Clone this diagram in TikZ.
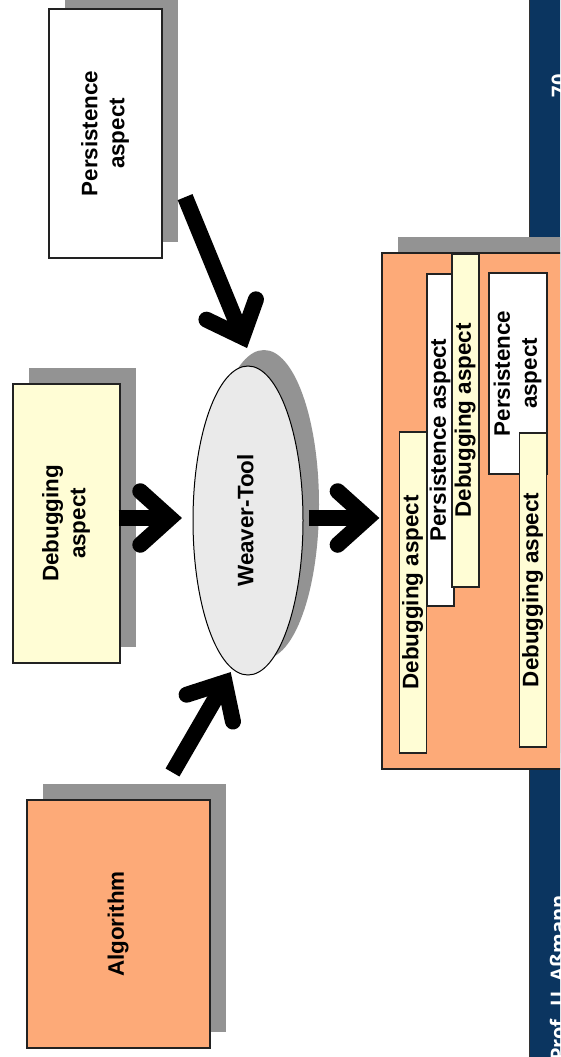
\documentclass[tikz,border=0pt]{standalone}
\usepackage{fontspec}
\setmainfont{Liberation Sans}
\newfontfamily\footfont{Open Sans}
\usetikzlibrary{calc,shadows,shapes.geometric}

\definecolor{navy}{HTML}{0B3560}
\definecolor{salmon}{HTML}{FDAA78}
\definecolor{paleyellow}{HTML}{FFFDD5}
\definecolor{shade}{HTML}{939393}
\definecolor{toolgray}{HTML}{EAEAEA}
\definecolor{edge}{HTML}{222222}

\tikzset{
  boxtext/.style={font=\bfseries\fontsize{22.4}{27}\selectfont, align=center},
  card/.style={rectangle, draw=edge, line width=1.2pt, inner sep=0pt, boxtext},
  shadowed/.style={drop shadow={shadow xshift=16pt, shadow yshift=16pt, fill=shade, opacity=1}},
  strip/.style={card, fill=paleyellow},
  note/.style={card, fill=white},
  shaft/.style={line width=16pt, line cap=butt},
  barb/.style={line width=16pt, line cap=round, line join=miter},
  footer/.style={text=white, font=\footfont\bfseries\fontsize{20}{24}\selectfont, inner sep=0pt, rotate=90},
}

% thick arrow: straight shaft plus a round-capped chevron meeting at the tip
\newcommand\fatarrow[2]{%
  \draw[shaft] (#1) -- (#2);
  \draw[barb] ($(#2)!40pt!42:(#1)$) -- (#2) -- ($(#2)!40pt!-42:(#1)$);
}
\newcommand\vtext[1]{\rotatebox{90}{\begin{tabular}{@{}c@{}}#1\end{tabular}}}

\begin{document}
\begin{tikzpicture}[x=1pt,y=-1pt]
  \useasboundingbox (0,0) rectangle (560,1057);
  \clip (0,0) rectangle (560,1057);

  % side bar with page number and author
  \fill[navy] (529,-2) rectangle (562,1059);
  \draw[black!80, line width=0.8pt] (529,-2) -- (529,1059);
  \node[footer, anchor=base] (pagenum) at (566,86) {70};
  \node[footer, anchor=base east] (author) at (565,895) {Prof. U. Aßmann};

  % inputs
  \node[card, shadowed, fill=white, minimum width=113pt, minimum height=249pt]
    (pers) at (105.5,133.5) {\vtext{Persistence\\aspect}};
  \node[card, shadowed, fill=paleyellow, minimum width=107pt, minimum height=279pt]
    (dbg) at (66.5,523.5) {\vtext{Debugging\\aspect}};
  \node[card, shadowed, fill=salmon, minimum width=183pt, minimum height=248pt]
    (alg) at (118.5,924) {\vtext{Algorithm}};

  % the weaver
  \node[ellipse, draw=black, line width=1pt, fill=toolgray, shadowed, inner sep=0pt,
        minimum width=110pt, minimum height=309pt, boxtext]
    (tool) at (248,520.5) {\vtext{Weaver-Tool}};

  % woven result
  \node[card, shadowed, fill=salmon, minimum width=193pt, minimum height=516pt]
    (woven) at (478.5,511) {};
  \node[strip, minimum width=26pt, minimum height=321pt] (d1) at (413,592.5) {\vtext{Debugging aspect}};
  \node[note,  minimum width=25pt, minimum height=332pt] (p1) at (440.5,440) {\vtext{Persistence aspect}};
  \node[strip, minimum width=25pt, minimum height=333pt] (d2) at (465.5,420.5) {\vtext{Debugging aspect}};
  \node[note,  minimum width=58pt, minimum height=201pt] (p2) at (518,373.5) {\vtext{Persistence\\aspect}};
  \node[strip, minimum width=26pt, minimum height=314pt] (d3) at (533,590) {\vtext{Debugging aspect}};

  % arrow ends
  \coordinate (persOut) at ($(pers.south east)+(22.5,-61.5)$);
  \coordinate (persIn)  at (242.5,337);
  \coordinate (dbgOut)  at ($(dbg.east)+(-2,-5.5)$);
  \coordinate (dbgIn)   at (170,518);
  \coordinate (algOut)  at (172.5,772.5);
  \coordinate (algIn)   at (224.7,682.4);
  \coordinate (toolOut) at ($(tool.east)+(5,-2.5)$);
  \coordinate (toolIn)  at ($(woven.west)+(-14,7)$);

  \fatarrow{persOut}{persIn}
  \fatarrow{dbgOut}{dbgIn}
  \fatarrow{algOut}{algIn}
  \fatarrow{toolOut}{toolIn}
\end{tikzpicture}
\end{document}
